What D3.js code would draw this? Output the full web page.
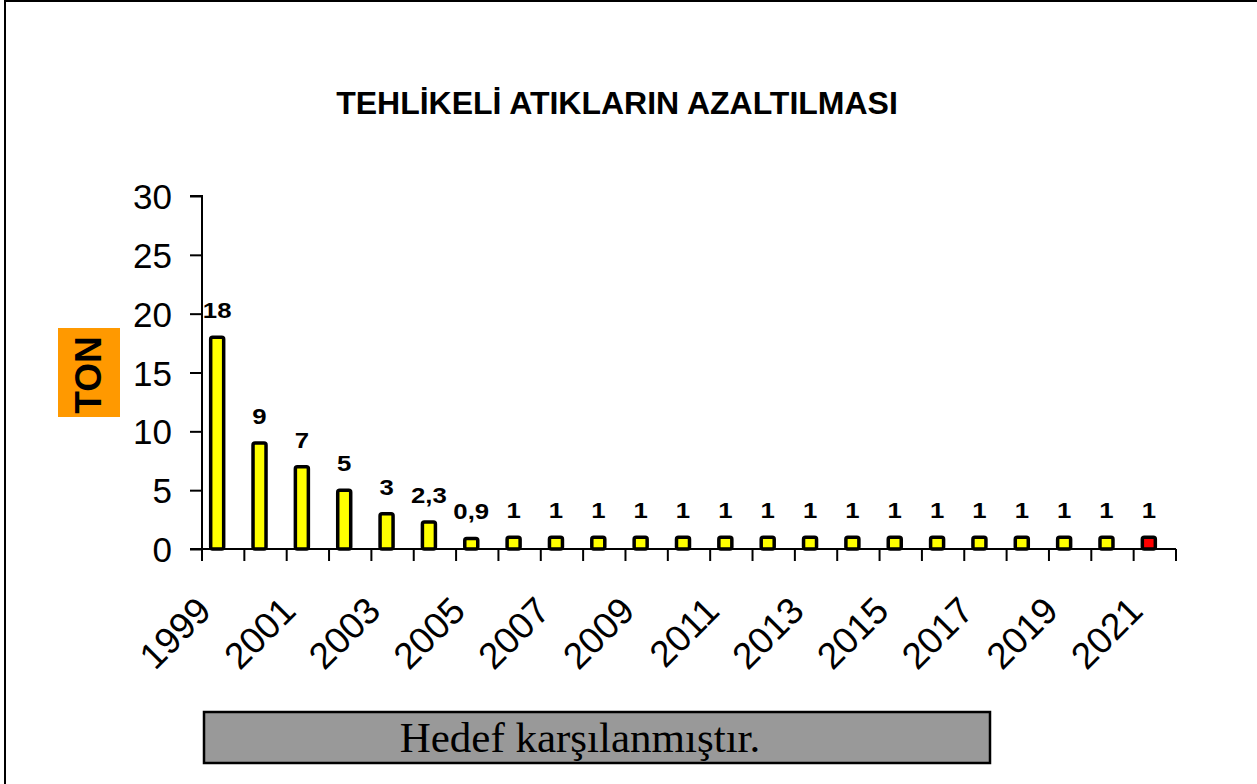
<!DOCTYPE html>
<html>
<head>
<meta charset="utf-8">
<script src="https://cdn.jsdelivr.net/npm/d3@7"></script>
<style>
  body { margin: 0; background: #fff; }
  svg { display: block; }
</style>
</head>
<body>
<div id="chart"></div>
<script>
// chart data
const years = ["1999", "2000", "2001", "2002", "2003", "2004", "2005", "2006", "2007", "2008", "2009", "2010",
               "2011", "2012", "2013", "2014", "2015", "2016", "2017", "2018", "2019", "2020", "2021"];
const tons = [18, 9, 7, 5, 3, 2.3, 0.9, 1, 1, 1, 1, 1, 1, 1, 1, 1, 1, 1, 1, 1, 1, 1, 1];
const yTicks = [0, 5, 10, 15, 20, 25, 30];
const shownYears = ["1999", "2001", "2003", "2005", "2007", "2009", "2011", "2013", "2015", "2017", "2019", "2021"];

const W = 1257, H = 784;
const plot = { left: 202, right: 1176, top: 196, bottom: 549 };

const svg = d3.select("#chart").append("svg")
    .attr("width", W)
    .attr("height", H);

// outer frame (right and bottom edges fall outside the picture)
svg.append("rect")
    .attr("x", 5).attr("y", 1)
    .attr("width", 1400).attr("height", 1000)
    .attr("fill", "none")
    .attr("stroke", "#000")
    .attr("stroke-width", 2);

// title
svg.append("text")
    .attr("x", 617).attr("y", 114)
    .attr("text-anchor", "middle")
    .style("font", "bold 32px 'Liberation Sans', Arial, sans-serif")
    .text("TEHLİKELİ ATIKLARIN AZALTILMASI");

const x = d3.scaleBand()
    .domain(years)
    .range([plot.left, plot.right])
    .padding(0);

const y = d3.scaleLinear()
    .domain([0, 30])
    .range([plot.bottom, plot.top]);

// y axis
const yAxis = svg.append("g")
    .attr("transform", `translate(${plot.left},0)`)
    .call(d3.axisLeft(y).tickValues(yTicks).tickSize(12).tickPadding(18));
yAxis.select(".domain").attr("stroke-width", 2).attr("d", `M-12,${y(30)}H0V${y(0)}`);
yAxis.selectAll(".tick line").attr("stroke-width", 2);
yAxis.selectAll(".tick text")
    .style("font", "35px 'Liberation Sans', Arial, sans-serif")
    .attr("fill", "#000")
    .attr("dy", "0.36em");

// x axis: ticks at band boundaries
const xAxisG = svg.append("g");
xAxisG.append("line")
    .attr("x1", plot.left - 12).attr("x2", plot.right)
    .attr("y1", plot.bottom).attr("y2", plot.bottom)
    .attr("stroke", "#000").attr("stroke-width", 2);
const boundaries = years.map(d => x(d)).concat([x(years[years.length - 1]) + x.bandwidth()]);
xAxisG.selectAll("line.tk")
    .data(boundaries)
    .join("line")
    .attr("class", "tk")
    .attr("x1", d => d).attr("x2", d => d)
    .attr("y1", plot.bottom).attr("y2", plot.bottom + 12)
    .attr("stroke", "#000").attr("stroke-width", 2);

xAxisG.selectAll("text.yl")
    .data(shownYears)
    .join("text")
    .attr("class", "yl")
    .attr("text-anchor", "end")
    .attr("transform", d => `translate(${x(d) + x.bandwidth() / 2 - 10},${plot.bottom + 64}) rotate(-45)`)
    .style("font", "37px 'Liberation Sans', Arial, sans-serif")
    .text(d => d);

// bars
const barW = 13;
const barShift = -6;
svg.append("g").selectAll("rect")
    .data(tons)
    .join("rect")
    .attr("x", (d, i) => x(years[i]) + x.bandwidth() / 2 + barShift - barW / 2)
    .attr("y", d => y(d))
    .attr("width", barW)
    .attr("height", d => y(0) - y(d))
    .attr("rx", 2)
    .attr("fill", (d, i) => i === tons.length - 1 ? "#ff0000" : "#ffff00")
    .attr("stroke", "#000")
    .attr("stroke-width", 3.5);

// value labels (slightly widened like the original rendering)
const fmt = v => String(v).replace(".", ",");
svg.append("g").selectAll("text")
    .data(tons)
    .join("text")
    .attr("transform", (d, i) => `translate(${x(years[i]) + x.bandwidth() / 2 + barShift},${y(d) - 19}) scale(1.12,1)`)
    .attr("text-anchor", "middle")
    .style("font", "bold 23px 'Liberation Sans', Arial, sans-serif")
    .text(d => fmt(d));

// axis title
svg.append("rect")
    .attr("x", 58).attr("y", 328)
    .attr("width", 62).attr("height", 89)
    .attr("fill", "#ff9900");
svg.append("text")
    .attr("transform", "translate(101,375) rotate(-90)")
    .attr("text-anchor", "middle")
    .style("font", "bold 37px 'Liberation Sans', Arial, sans-serif")
    .text("TON");

// note box
svg.append("rect")
    .attr("x", 204).attr("y", 712)
    .attr("width", 786).attr("height", 51)
    .attr("fill", "#999999")
    .attr("stroke", "#000")
    .attr("stroke-width", 2.5);
svg.append("text")
    .attr("x", 580).attr("y", 752)
    .attr("text-anchor", "middle")
    .style("font", "43px 'Liberation Serif', 'Times New Roman', serif")
    .text("Hedef karşılanmıştır.");
</script>
</body>
</html>
